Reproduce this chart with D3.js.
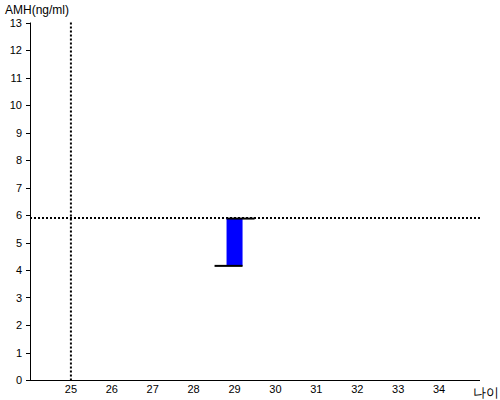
<!DOCTYPE html>
<html><head><meta charset="utf-8">
<script src="https://cdn.jsdelivr.net/npm/d3@7"></script>
<style>body{margin:0;background:#fff}svg{display:block}text{font-family:Arial,"Liberation Sans",sans-serif}</style>
</head><body><svg id="c" width="500" height="400"></svg>
<script>
const xTicks = [25,26,27,28,29,30,31,32,33,34];
const yTicks = [0,1,2,3,4,5,6,7,8,9,10,11,12,13];
const ages = [29];
const lows = [4.15];
const highs = [5.87];
const refAge = [25];
const refAmh = [5.89];
const yTitle = "AMH(ng/ml)";
const xTitle = "나이";

const svg = d3.select("#c");
const x = d3.scaleLinear().domain([24,35]).range([30,480]);
const y = d3.scaleLinear().domain([0,13]).range([380,22.5]);

// y axis
svg.append("line").attr("x1",30.5).attr("x2",30.5).attr("y1",y(13)).attr("y2",380.5).attr("stroke","#000");
svg.selectAll(".yt").data(yTicks).enter().append("line")
  .attr("x1",26).attr("x2",30).attr("y1",d=>Math.round(y(d))+0.5).attr("y2",d=>Math.round(y(d))+0.5).attr("stroke","#000");
svg.selectAll(".yl").data(yTicks).enter().append("text")
  .attr("x",22).attr("y",d=>y(d)+4).attr("text-anchor","end").attr("font-size",11).text(d=>d);
// x axis
svg.append("line").attr("x1",30).attr("x2",480).attr("y1",380.5).attr("y2",380.5).attr("stroke","#000");
svg.selectAll(".xl").data(xTicks).enter().append("text")
  .attr("x",d=>x(d)).attr("y",393).attr("text-anchor","middle").attr("font-size",11).text(d=>d);
svg.append("text").attr("x",473).attr("y",397).attr("font-size",13).text(xTitle);
svg.append("text").attr("x",5).attr("y",14).attr("font-size",12).text(yTitle);

// reference lines
svg.selectAll(".rv").data(refAge).enter().append("line")
  .attr("x1",d=>x(d)).attr("x2",d=>x(d)).attr("y1",y(13)).attr("y2",380)
  .attr("stroke","#000").attr("stroke-width",2).attr("stroke-dasharray","2,2");
svg.selectAll(".rh").data(refAmh).enter().append("line")
  .attr("x1",30).attr("x2",480).attr("y1",d=>y(d)).attr("y2",d=>y(d))
  .attr("stroke","#000").attr("stroke-width",2).attr("stroke-dasharray","2,2");

// bars
const bw = 16;
ages.forEach((a,i)=>{
  const cx = x(a);
  svg.append("rect").attr("x",cx-8).attr("width",bw)
    .attr("y",y(highs[i])).attr("height",y(lows[i])-y(highs[i])).attr("fill","#0000ff");
  svg.append("line").attr("x1",cx-8).attr("x2",cx+20).attr("y1",y(highs[i])).attr("y2",y(highs[i]))
    .attr("stroke","#000").attr("stroke-width",2);
  svg.append("line").attr("x1",cx-20).attr("x2",cx+8).attr("y1",y(lows[i])).attr("y2",y(lows[i]))
    .attr("stroke","#000").attr("stroke-width",2);
});
</script></body></html>
